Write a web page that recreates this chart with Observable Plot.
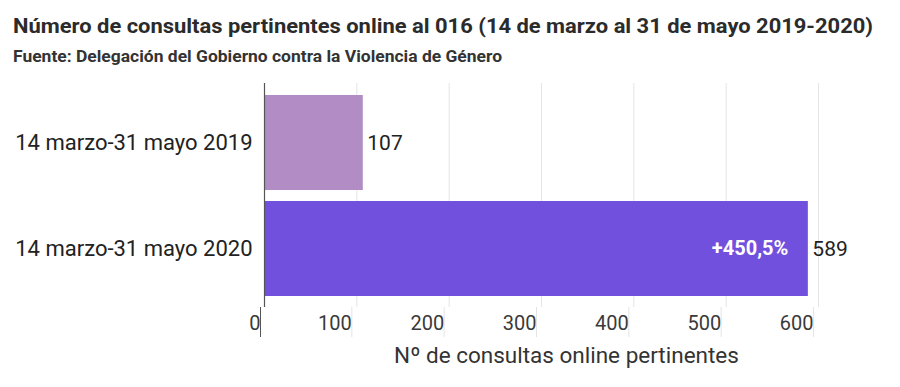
<!DOCTYPE html>
<html>
<head>
<meta charset="utf-8">
<script src="https://cdn.jsdelivr.net/npm/d3@7"></script>
<script src="https://cdn.jsdelivr.net/npm/@observablehq/plot@0.6"></script>
<style>
  html, body { margin: 0; padding: 0; background: #fff; }
  #wrap { position: relative; width: 900px; height: 387px; overflow: hidden; font-family: Roboto, "Noto Sans", sans-serif; }
  .hdr { position: absolute; left: 13px; white-space: nowrap; transform-origin: 0 0; color: #2b2b2b; }
  #title { top: 14px; font-size: 21px; line-height: 24px; font-weight: 700; }
  #subtitle { top: 47.5px; font-size: 16px; line-height: 18px; font-weight: 700; color: #333; }
  #chart { position: absolute; left: 0; top: 0; }
</style>
</head>
<body>
<div id="wrap">
  <div id="chart"></div>
  <div id="title" class="hdr"></div>
  <div id="subtitle" class="hdr"></div>
</div>
<script>
const titleText = "Número de consultas pertinentes online al 016 (14 de marzo al 31 de mayo 2019-2020)";
const subtitleText = "Fuente: Delegación del Gobierno contra la Violencia de Género";
const periods = ["14 marzo-31 mayo 2019", "14 marzo-31 mayo 2020"];
const values = [107, 589];
const barColors = ["#b28cc5", "#7250de"];
const changeLabel = "+450,5%";
const xTicks = [0, 100, 200, 300, 400, 500, 600];
const xLabel = "Nº de consultas online pertinentes";

const data = periods.map((p, i) => ({period: p, value: values[i]}));
const gridTicks = xTicks.filter(t => t !== 0);

function fit(el, text, targetWidth) {
  el.textContent = text;
  const w = el.getBoundingClientRect().width;
  el.style.transform = `scaleX(${targetWidth / w})`;
}
fit(document.getElementById("title"), titleText, 860);
fit(document.getElementById("subtitle"), subtitleText, 489);

const chart = Plot.plot({
  width: 900,
  height: 387,
  marginTop: 83,
  marginBottom: 80,
  marginLeft: 264,
  marginRight: 82,
  style: {fontFamily: "Roboto, 'Noto Sans', sans-serif", background: "transparent", color: "#333"},
  x: {domain: [0, 600]},
  y: {domain: periods, padding: 0.108},
  color: {domain: periods, range: barColors},
  marks: [
    Plot.gridX({ticks: gridTicks, stroke: "#e4e4e4", strokeOpacity: 1}),
    Plot.axisX({ticks: gridTicks, tickSize: 30, tickPadding: -14, lineAnchor: "middle", textAnchor: "end", dx: -5,
                stroke: "#e4e4e4", fill: "#3a3a3a", fontSize: 20, label: null}),
    Plot.axisX({ticks: [0], tickSize: 30, tickPadding: -14, lineAnchor: "middle", textAnchor: "end", dx: -4,
                stroke: "#555", fill: "#3a3a3a", fontSize: 20, label: null}),
    Plot.barX(data, {x: "value", y: "period", fill: "period"}),
    Plot.ruleX([0], {stroke: "#555", strokeWidth: 1.2}),
    Plot.axisY({tickSize: 0, tickPadding: 12, fontSize: 22, fill: "#222", label: null}),
    Plot.text(data, {x: "value", y: "period", text: d => String(d.value), textAnchor: "start", dx: 4, fontSize: 21, fill: "#222"}),
    Plot.text(data.filter(d => d.period === periods[1]), {x: "value", y: "period", text: () => changeLabel, textAnchor: "end", dx: -20, fontSize: 20, fontWeight: "bold", fill: "#fff"}),
    Plot.text([xLabel], {frameAnchor: "bottom", text: d => d, dy: 48, dx: 25, fontSize: 22.5, fill: "#333", lineAnchor: "middle"})
  ]
});
document.getElementById("chart").appendChild(chart);
</script>
</body>
</html>
